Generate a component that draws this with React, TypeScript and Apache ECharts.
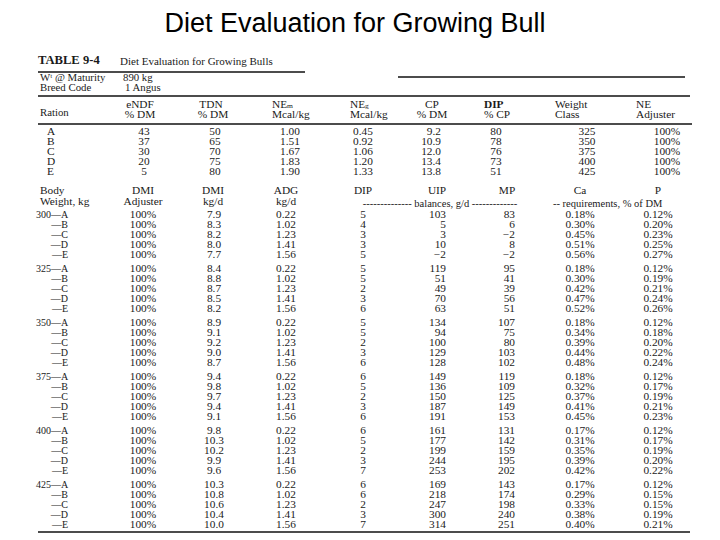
import React, { useEffect, useRef } from "react";
import * as echarts from "echarts";

// ---------- data ----------
const titleText = "Diet Evaluation for Growing Bull";
const tableCaption = "TABLE 9-4";
const tableTitle = "Diet Evaluation for Growing Bulls";
const maturityWeight = "890 kg";
const breedCode = "1 Angus";

const rations = ["A", "B", "C", "D", "E"];
const eNDF = [43, 37, 30, 20, 5];
const tdn = [50, 65, 70, 75, 80];
const neM = [1.0, 1.51, 1.67, 1.83, 1.9];
const neG = [0.45, 0.92, 1.06, 1.2, 1.33];
const cpDM = [9.2, 10.9, 12.0, 13.4, 13.8];
const dipCP = [80, 78, 76, 73, 51];
const weightClass = [325, 350, 375, 400, 425];
const neAdjuster = [100, 100, 100, 100, 100];

const bodyWeights = [300, 325, 350, 375, 400, 425];
const dmiAdjuster = [
  [100, 100, 100, 100, 100],
  [100, 100, 100, 100, 100],
  [100, 100, 100, 100, 100],
  [100, 100, 100, 100, 100],
  [100, 100, 100, 100, 100],
  [100, 100, 100, 100, 100],
];
const dmi = [
  [7.9, 8.3, 8.2, 8.0, 7.7],
  [8.4, 8.8, 8.7, 8.5, 8.2],
  [8.9, 9.1, 9.2, 9.0, 8.7],
  [9.4, 9.8, 9.7, 9.4, 9.1],
  [9.8, 10.3, 10.2, 9.9, 9.6],
  [10.3, 10.8, 10.6, 10.4, 10.0],
];
const adg = [0.22, 1.02, 1.23, 1.41, 1.56];
const dipBalance = [
  [5, 4, 3, 3, 5],
  [5, 5, 2, 3, 6],
  [5, 5, 2, 3, 6],
  [6, 5, 2, 3, 6],
  [6, 5, 2, 3, 7],
  [6, 6, 2, 3, 7],
];
const uipBalance = [
  [103, 5, 3, 10, -2],
  [119, 51, 49, 70, 63],
  [134, 94, 100, 129, 128],
  [149, 136, 150, 187, 191],
  [161, 177, 199, 244, 253],
  [169, 218, 247, 300, 314],
];
const mpBalance = [
  [83, 6, -2, 8, -2],
  [95, 41, 39, 56, 51],
  [107, 75, 80, 103, 102],
  [119, 109, 125, 149, 153],
  [131, 142, 159, 195, 202],
  [143, 174, 198, 240, 251],
];
const caReq = [
  [0.18, 0.3, 0.45, 0.51, 0.56],
  [0.18, 0.3, 0.42, 0.47, 0.52],
  [0.18, 0.34, 0.39, 0.44, 0.48],
  [0.18, 0.32, 0.37, 0.41, 0.45],
  [0.17, 0.31, 0.35, 0.39, 0.42],
  [0.17, 0.29, 0.33, 0.38, 0.4],
];
const pReq = [
  [0.12, 0.2, 0.23, 0.25, 0.27],
  [0.12, 0.19, 0.21, 0.24, 0.26],
  [0.12, 0.18, 0.2, 0.22, 0.24],
  [0.12, 0.17, 0.19, 0.21, 0.23],
  [0.12, 0.17, 0.19, 0.2, 0.22],
  [0.12, 0.15, 0.15, 0.19, 0.21],
];

// ---------- layout ----------
const SERIF = "'Liberation Serif', 'DejaVu Serif', serif";
const INK = "#1a1a1a";
const FS = 10.5;
const WIDE = 1.08;

const fmtNeg = (v: number) => (v < 0 ? "\u2212" + Math.abs(v) : String(v));
const pct = (v: number, d = 2) => v.toFixed(d) + "%";

function txt(
  text: string,
  x: number,
  y: number,
  align: string = "center",
  size: number = FS,
  extra: any = {},
  sx: number = WIDE
) {
  return {
    type: "text",
    x,
    y,
    scaleX: sx,
    silent: true,
    style: {
      text,
      fontFamily: SERIF,
      fontSize: size,
      fill: INK,
      textAlign: align,
      align,
      textVerticalAlign: "middle",
      verticalAlign: "middle",
      ...extra,
    },
  };
}

function hline(x1: number, x2: number, y: number, w = 1.3) {
  return {
    type: "line",
    silent: true,
    shape: { x1, y1: y, x2, y2: y },
    style: { stroke: "#111", lineWidth: w },
  };
}

function subText(base: string, sub: string, x: number, y: number) {
  return {
    type: "text",
    x,
    y,
    scaleX: WIDE,
    silent: true,
    style: {
      text: `{b|${base}}{s|${sub}}`,
      textAlign: "left",
      align: "left",
      textVerticalAlign: "middle",
      verticalAlign: "middle",
      rich: {
        b: { fontFamily: SERIF, fontSize: FS, fill: INK, color: INK },
        s: { fontFamily: SERIF, fontSize: 7, fill: INK, color: INK, padding: [5, 0, 0, 0] },
      },
    },
  };
}

function buildGraphics() {
  const g: any[] = [];
  // page title
  g.push({
    type: "text",
    x: 355,
    y: 23,
    silent: true,
    style: {
      text: titleText,
      fontFamily: "'Liberation Sans', Arial, sans-serif",
      fontSize: 27,
      fill: "#000",
      textAlign: "center",
      align: "center",
      textVerticalAlign: "middle",
      verticalAlign: "middle",
    },
  });

  // table caption
  g.push(txt(tableCaption, 38, 60, "left", 12, { fontWeight: "bold" }, 1.05));
  g.push(txt(tableTitle, 120, 61, "left", 11, {}, 1.0));
  g.push(hline(38, 305, 72, 1.6));
  g.push(hline(398, 685, 77, 1.3));

  g.push(txt("W\u1D57 @ Maturity", 40, 78, "left", 10));
  g.push(txt(maturityWeight, 123, 78, "left", 10));
  g.push(txt("Breed Code", 40, 88, "left", 10));
  g.push(txt(breedCode, 125, 88, "left", 10));
  g.push(hline(38, 690, 96, 1.4));

  // header 1
  const h1a = 104, h1b = 114;
  g.push(txt("Ration", 40, 113, "left", 10));
  g.push(txt("eNDF", 140, h1a));
  g.push(txt("% DM", 140, h1b));
  g.push(txt("TDN", 211, h1a));
  g.push(txt("% DM", 213, h1b));
  g.push(subText("NE", "m", 272, h1a));
  g.push(txt("Mcal/kg", 272, h1b, "left"));
  g.push(subText("NE", "g", 350, h1a));
  g.push(txt("Mcal/kg", 350, h1b, "left"));
  g.push(txt("CP", 425, h1a, "left"));
  g.push(txt("% DM", 432, h1b));
  g.push(txt("DIP", 484, h1a, "left", FS, { fontWeight: "bold" }));
  g.push(txt("% CP", 484, h1b, "left"));
  g.push(txt("Weight", 555, h1a, "left"));
  g.push(txt("Class", 555, h1b, "left"));
  g.push(txt("NE", 636, h1a, "left"));
  g.push(txt("Adjuster", 636, h1b, "left"));
  g.push(hline(38, 692, 124, 1.4));

  // top rows
  const rowStep = 10;
  rations.forEach((r, i) => {
    const y = 131 + i * rowStep;
    g.push(txt(r, 47, y, "left"));
    g.push(txt(String(eNDF[i]), 144, y));
    g.push(txt(String(tdn[i]), 215, y));
    g.push(txt(neM[i].toFixed(2), 290, y));
    g.push(txt(neG[i].toFixed(2), 363, y));
    g.push(txt(cpDM[i].toFixed(1), 441, y, "right"));
    g.push(txt(String(dipCP[i]), 496, y));
    g.push(txt(String(weightClass[i]), 587, y));
    g.push(txt(neAdjuster[i] + "%", 667, y));
  });

  // header 2
  const h2a = 190, h2b = 201;
  g.push(txt("Body", 40, h2a, "left"));
  g.push(txt("Weight, kg", 40, h2b, "left"));
  g.push(txt("DMI", 143, h2a));
  g.push(txt("Adjuster", 143, h2b));
  g.push(txt("DMI", 213, h2a));
  g.push(txt("kg/d", 213, h2b));
  g.push(txt("ADG", 286, h2a));
  g.push(txt("kg/d", 286, h2b));
  g.push(txt("DIP", 363, h2a));
  g.push(txt("UIP", 437, h2a));
  g.push(txt("MP", 507, h2a));
  g.push(txt("Ca", 580, h2a));
  g.push(txt("P", 658, h2a));
  g.push(txt("-------------- balances, g/d -------------", 440, 203, "center", FS, {}, 1.0));
  g.push(txt("-- requirements, % of DM", 553, 203, "left", FS, {}, 1.0));

  // bottom rows
  bodyWeights.forEach((bw, gi) => {
    rations.forEach((r, i) => {
      const y = 214 + gi * 54 + i * rowStep;
      if (i === 0) g.push(txt(`${bw}\u2014${r}`, 36, y, "left", 10, {}, 1.0));
      else g.push(txt("\u2014" + r, 68, y, "right", 10, {}, 1.0));
      g.push(txt(dmiAdjuster[gi][i] + "%", 143, y));
      g.push(txt(dmi[gi][i].toFixed(1), 214, y));
      g.push(txt(adg[i].toFixed(2), 286, y));
      g.push(txt(String(dipBalance[gi][i]), 363, y));
      g.push(txt(fmtNeg(uipBalance[gi][i]), 446, y, "right"));
      g.push(txt(fmtNeg(mpBalance[gi][i]), 515, y, "right"));
      g.push(txt(pct(caReq[gi][i]), 580, y));
      g.push(txt(pct(pReq[gi][i]), 658, y));
    });
  });

  g.push(hline(38, 690, 532, 1.4));
  return g;
}

export default function App() {
  const ref = useRef<HTMLDivElement>(null);
  useEffect(() => {
    if (!ref.current) return;
    const chart = echarts.init(ref.current, undefined, { renderer: "svg" });
    chart.setOption({
      animation: false,
      backgroundColor: "#ffffff",
      graphic: { elements: buildGraphics() },
    });
    return () => chart.dispose();
  }, []);
  return (
    <div
      ref={ref}
      style={{ position: "fixed", left: 0, top: 0, width: 720, height: 540, background: "#fff" }}
    />
  );
}
